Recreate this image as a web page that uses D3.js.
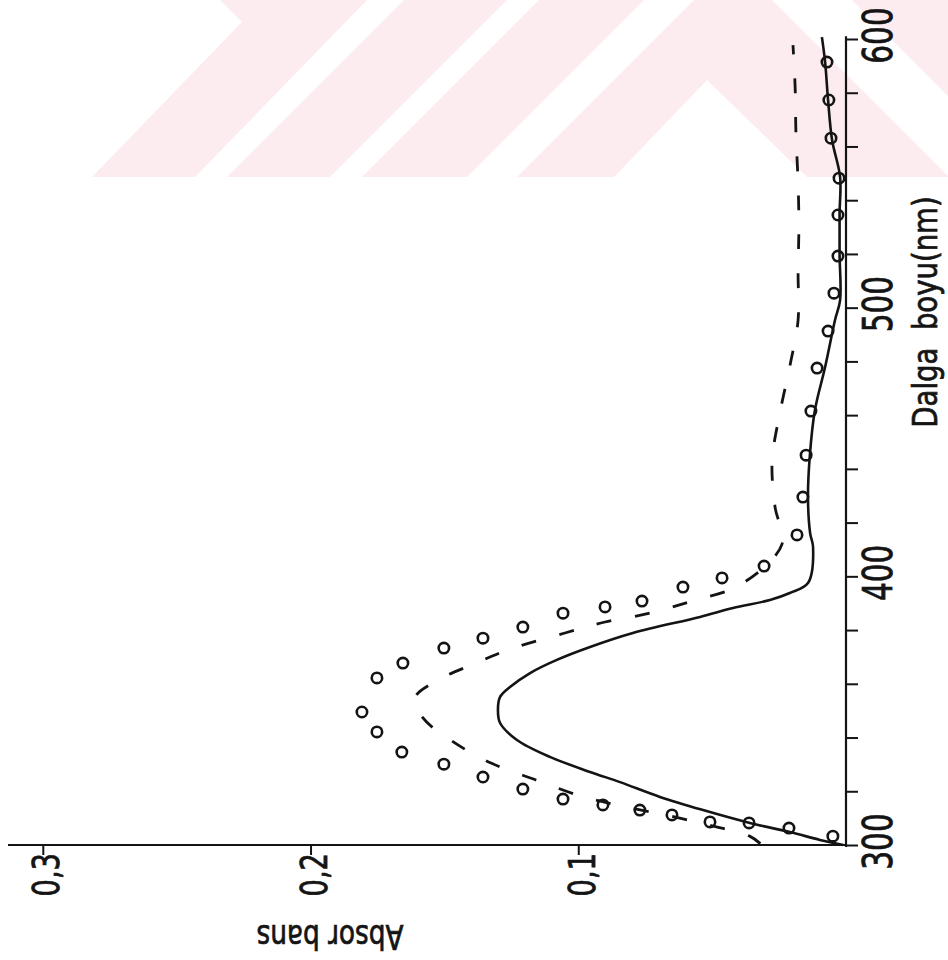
<!DOCTYPE html>
<html>
<head>
<meta charset="utf-8">
<script src="https://cdn.jsdelivr.net/npm/d3@7"></script>
<style>
  html, body { margin: 0; padding: 0; background: #fff; }
  svg { display: block; }
  .lbl { font-family: "Liberation Sans Narrow", "Arial Narrow", "DejaVu Sans Condensed", sans-serif; fill: #141414; stroke: #141414; stroke-width: 0.7px; }
</style>
</head>
<body>
<svg id="chart" width="948" height="960"></svg>
<script>
// Absorbance spectra, plotted with wavelength running up the right-hand axis
// and absorbance increasing to the left.

// Solid curve: wavelength (nm) and absorbance
const solidNm = [300, 301.9, 304.8, 308.2, 313.0, 317.9, 323.4, 327.2, 332.8, 339.1, 345.4, 350.2,
  355.1, 358.8, 364, 368.9, 373.7, 378.9, 384.9, 388.2, 391.2, 393.8, 397.5, 410.9, 416.1,
  429.5, 445, 461.9, 477.9, 495.4, 502.8, 520, 535, 548.6, 562.4, 577.3, 591.4, 600.7];
const solidAbs = [0.001, 0.0097, 0.0209, 0.0359, 0.0534, 0.0695, 0.0844, 0.0956, 0.1106, 0.1229, 0.1292, 0.130,
  0.1292, 0.1255, 0.118, 0.108, 0.0956, 0.0796, 0.0545, 0.0422, 0.0284, 0.021, 0.0142, 0.0123, 0.0134,
  0.0142, 0.0135, 0.0116, 0.0078, 0.0041, 0.0022, 0.0024, 0.0024, 0.0022, 0.0052, 0.0067, 0.0078, 0.009];

// Dashed curve
const dashNm = [300.5, 303.3, 307.4, 311.2, 314.5, 318.2, 324.2, 330.5, 338.7, 347.3, 354.7, 361,
  367.7, 372.9, 378.9, 383.0, 386.3, 390.8, 396.8, 412, 425.8, 442.9, 460.8, 478.6, 495.4, 513.6,
  530.4, 546.7, 565, 582.1, 597.7];
const dashAbs = [0.032, 0.036, 0.051, 0.0676, 0.0837, 0.099, 0.1158, 0.1326, 0.1472, 0.158, 0.161, 0.1532,
  0.1382, 0.1255, 0.105, 0.09, 0.0732, 0.0575, 0.0396, 0.0239, 0.0265, 0.0276, 0.0247, 0.0209, 0.0179, 0.0179,
  0.0176, 0.0179, 0.0187, 0.019, 0.0198];

// Measured points (open circles)
const pointNm = [303.3, 306.3, 308.2, 308.6, 311.2, 313, 314.9, 317.1, 320.8, 325.3, 330.1, 334.6,
  342.1, 349.5, 362.2, 367.7, 373.3, 377, 381.1, 386.3, 388.6, 390.8, 396, 399.4, 403.8, 415.4,
  429.5, 445.1, 461.5, 477.5, 491.3, 505.4, 519.2, 534.5, 548.2, 563.1, 577.3, 591.4];
const pointAbs = [0.0049, 0.0213, 0.0362, 0.0508, 0.065, 0.077, 0.0908, 0.1057, 0.1207, 0.1356, 0.1502, 0.1659,
  0.1752, 0.1808, 0.1752, 0.1655, 0.1502, 0.1356, 0.1207, 0.1057, 0.09, 0.0762, 0.0609, 0.0463, 0.0306, 0.0183,
  0.0161, 0.0149, 0.0131, 0.0108, 0.0067, 0.0045, 0.003, 0.003, 0.0026, 0.0056, 0.0064, 0.0071];

// Axis ticks and labels
const nmTicks = d3.range(300, 601, 20);
const nmLabelled = [300, 400, 500, 600];
const absTicks = [0.1, 0.2, 0.3];
const nmTitle = "Dalga  boyu(nm)";
const absTitle = "Absor bans";

// Pale background emblem in the top band
const emblem = [
  [[92,177],[242,22],[220,0],[367,0],[195,177]],
  [[227,177],[404,0],[507,0],[330,177]],
  [[362,177],[539,0],[644,0],[467,177]],
  [[517,177],[694,0],[772,0],[949,177]],
  [[852,0],[948,0],[948,96]]
];
const emblemHole = [[614,177],[707,80],[807,177]];

const svg = d3.select("#chart");

const eg = svg.append("g");
eg.selectAll("polygon.e").data(emblem).join("polygon")
  .attr("points", d => d.map(p => p.join(",")).join(" "))
  .attr("fill", "#fcebef");
eg.append("polygon").attr("points", emblemHole.map(p => p.join(",")).join(" ")).attr("fill", "#fff");

// Wavelength runs vertically, absorbance horizontally (increasing leftwards)
const y = d3.scaleLinear().domain([300, 600]).range([845, 39]);
const x = d3.scaleLinear().domain([0, 0.313]).range([846, 8]);

const ink = "#141414";

// Wavelength axis on the right
const yAxis = d3.axisRight(y)
  .tickValues(nmTicks)
  .tickSize(12)
  .tickSizeOuter(0)
  .tickFormat(d => nmLabelled.includes(d) ? d : "");
const gy = svg.append("g").attr("transform", `translate(${x(0)},0)`).call(yAxis);
gy.select(".domain").attr("stroke", ink).attr("stroke-width", 2.2)
  .attr("d", `M0,${y(300) + 2}V${y(601)}`);
gy.selectAll(".tick line").attr("stroke", ink).attr("stroke-width", 2);
gy.selectAll(".tick text")
  .attr("class", "lbl")
  .attr("x", null).attr("dy", null)
  .attr("transform", "translate(46,-4) rotate(-90) scale(0.82,1)")
  .attr("text-anchor", "middle")
  .attr("font-size", 40);

// Absorbance axis along the bottom
const xAxis = d3.axisBottom(x)
  .tickValues(absTicks)
  .tickSize(10)
  .tickSizeOuter(0)
  .tickFormat(d => d3.format(".1f")(d).replace(".", ","));
const gx = svg.append("g").attr("transform", `translate(0,${y(300)})`).call(xAxis);
gx.select(".domain").attr("stroke", ink).attr("stroke-width", 2.2)
  .attr("d", `M${x(0) + 1},0H${x(0.313)}`);
gx.selectAll(".tick line").attr("stroke", ink).attr("stroke-width", 2);
gx.selectAll(".tick text")
  .attr("class", "lbl")
  .attr("y", null).attr("dy", null)
  .attr("transform", "translate(16,8) rotate(-90) scale(0.8,1)")
  .attr("text-anchor", "end")
  .attr("font-size", 38);

// Axis titles
svg.append("text").attr("class", "lbl")
  .attr("transform", `translate(937,312) rotate(-90) scale(0.9,1)`)
  .attr("text-anchor", "middle")
  .attr("font-size", 34)
  .style("white-space", "pre")
  .text(nmTitle);

svg.append("text").attr("class", "lbl")
  .attr("transform", `translate(330,925) rotate(180) scale(0.86,1)`)
  .attr("text-anchor", "middle")
  .attr("font-size", 34)
  .style("white-space", "pre")
  .text(absTitle);

// Curves
const solid = solidNm.map((n, i) => ({nm: n, a: solidAbs[i]}));
const dashed = dashNm.map((n, i) => ({nm: n, a: dashAbs[i]}));
const points = pointNm.map((n, i) => ({nm: n, a: pointAbs[i]}));

const line = d3.line().x(d => x(d.a)).y(d => y(d.nm)).curve(d3.curveCatmullRom.alpha(0.5));

svg.append("path").datum(solid)
  .attr("d", line)
  .attr("fill", "none").attr("stroke", ink).attr("stroke-width", 2.6)
  .attr("stroke-linejoin", "round");

svg.append("path").datum(dashed)
  .attr("d", line)
  .attr("fill", "none").attr("stroke", ink).attr("stroke-width", 2.8)
  .attr("stroke-dasharray", "15,24");

svg.append("g").selectAll("circle").data(points).join("circle")
  .attr("cx", d => x(d.a)).attr("cy", d => y(d.nm))
  .attr("r", 5.2)
  .attr("fill", "none").attr("stroke", ink).attr("stroke-width", 2.6);
</script>
</body>
</html>
